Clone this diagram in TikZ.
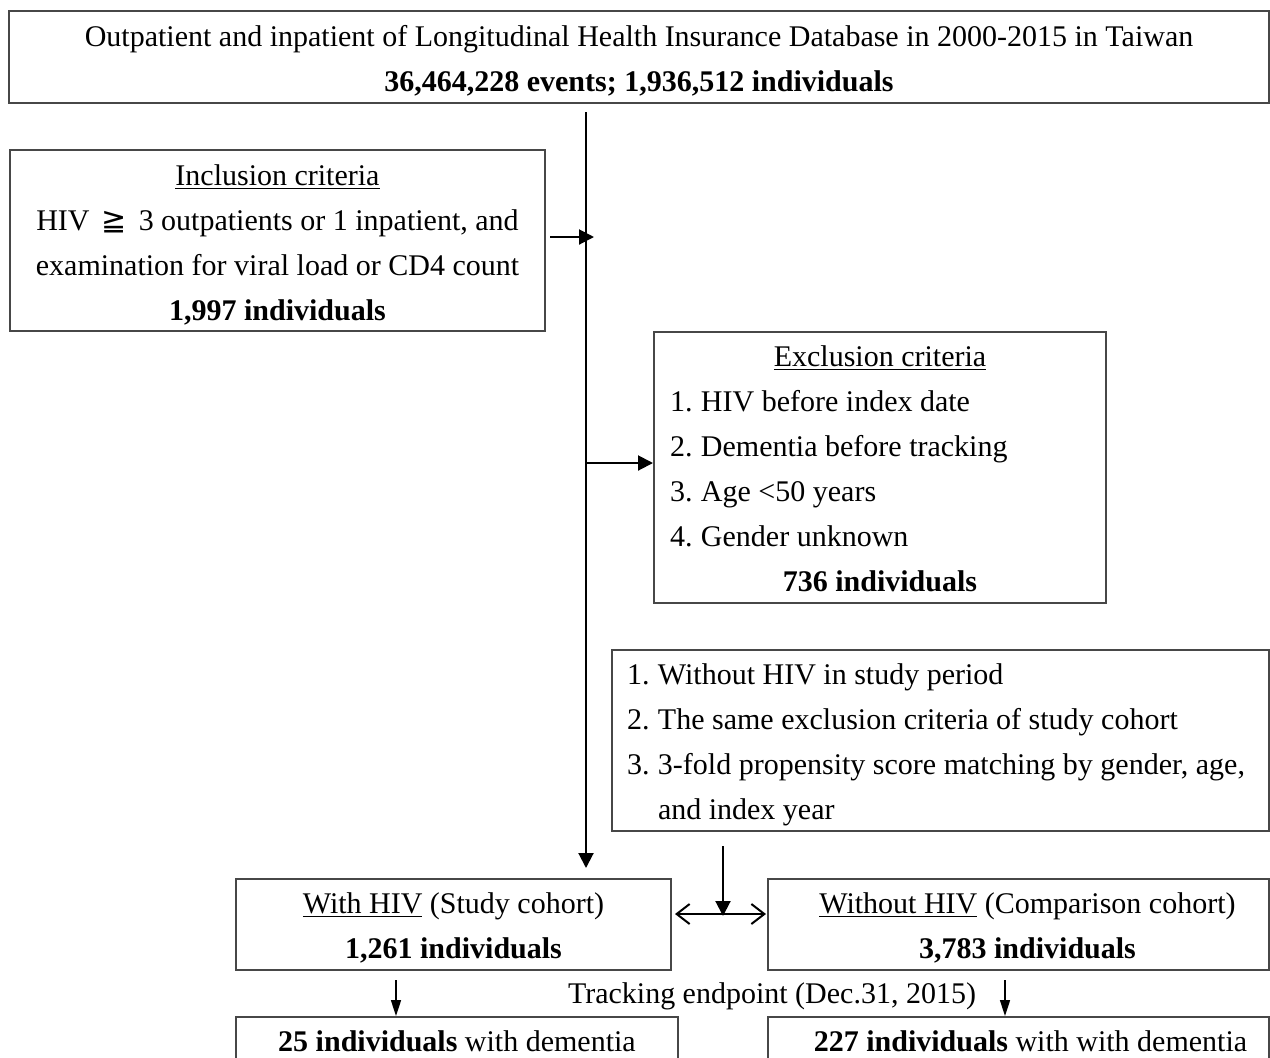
\documentclass[tikz,border=0pt]{standalone}
\usepackage{fontspec}
\setmainfont{Liberation Serif}
\newfontfamily\symfont{DejaVu Sans}
\usetikzlibrary{arrows.meta}
\newcommand{\itmline}[3]{\makebox[#1][l]{\makebox[15.5pt][l]{#2}#3}}
\newcommand{\upstrut}[1]{\rule{0pt}{#1}}
\begin{document}
\begin{tikzpicture}[x=0.5pt,y=-0.5pt,
  box/.style={draw=black!72, line width=1pt, inner sep=0pt, align=center,
    font=\fontsize{15}{22.5}\selectfont},
  txt/.style={inner sep=0pt, font=\fontsize{15}{22.5}\selectfont},
  conn/.style={line width=1pt, -{Triangle[length=7.5pt,width=7.5pt]}},
  thinconn/.style={line width=0.8pt, -{Triangle[length=8pt,width=5pt]}},
  dbl/.style={line width=1pt, {Straight Barb[length=6.5pt,width=10pt]}-{Straight Barb[length=6.5pt,width=10pt]}}]
\clip (0,0) rectangle (1270,1057);
\fill[white] (0,0) rectangle (1270,1057);

% boxes
\node[box, minimum width=630pt, minimum height=46pt] (top) at (639,57)
  {\upstrut{14.5pt}Outpatient and inpatient of Longitudinal Health Insurance Database in 2000-2015 in Taiwan\\
   \textbf{36,464,228 events; 1,936,512 individuals}};

\node[box, minimum width=267.5pt, minimum height=90.5pt] (incl) at (277.5,240.5)
  {\upstrut{14.5pt}\underline{Inclusion criteria}\\
   HIV\hspace{6pt}{\symfont ≧}\hspace{6pt}3 outpatients or 1 inpatient, and\\
   examination for viral load or CD4 count\\
   \textbf{1,997 individuals}};

\node[box, minimum width=226pt, minimum height=135.5pt] (excl) at (880,467.5)
  {\upstrut{11.5pt}\underline{Exclusion criteria}\\
   \itmline{210pt}{1.}{HIV before index date}\\
   \itmline{210pt}{2.}{Dementia before tracking}\\
   \itmline{210pt}{3.}{Age <50 years}\\
   \itmline{210pt}{4.}{Gender unknown}\\
   \textbf{736 individuals}};

\node[box, minimum width=328.5pt, minimum height=90.5pt] (match) at (940.5,740.5)
  {\upstrut{15pt}\itmline{313.5pt}{1.}{Without HIV in study period}\\
   \itmline{313.5pt}{2.}{The same exclusion criteria of study cohort}\\
   \itmline{313.5pt}{3.}{3-fold propensity score matching by gender, age,}\\
   \itmline{313.5pt}{}{and index year}};

\node[box, minimum width=217.5pt, minimum height=45.5pt] (with) at (453.5,924.5)
  {\upstrut{13.8pt}\underline{With HIV} (Study cohort)\\
   \textbf{1,261 individuals}};

\node[box, minimum width=250.5pt, minimum height=45.5pt] (without) at (1018.5,924.5)
  {\upstrut{13.8pt}\hspace{9pt}\underline{Without HIV} (Comparison cohort)\\
   \hspace{9pt}\textbf{3,783 individuals}};

\node[box, minimum width=221pt, minimum height=24pt] (resl) at (457,1041)
  {\textbf{25 individuals} with dementia};

\node[box, minimum width=250.5pt, minimum height=24pt] (resr) at (1018.5,1041)
  {\hspace{12pt}\textbf{227 individuals} with with dementia};

\node[txt] (track) at (772,996) {Tracking endpoint (Dec.31, 2015)};

% connector coordinates
\coordinate (m1) at (586,112);
\coordinate (m2) at (586,868);
\coordinate (i1) at (550,237);
\coordinate (i2) at (594,237);
\coordinate (e1) at (586,463);
\coordinate (p1) at (723,846);
\coordinate (p2) at (723,916);
\coordinate (d1) at (675,914);
\coordinate (d2) at (766,914);
\coordinate (b1) at (396,980);
\coordinate (b2) at (1005,980);

% connectors
\draw[conn] (m1) -- (m2);
\draw[conn] (i1) -- (i2);
\draw[conn] (e1) -- (e1 -| excl.west);
\draw[dbl] (d1) -- (d2);
\draw[conn] (p1) -- (p2);
\draw[thinconn] (b1) -- (b1 |- resl.north);
\draw[thinconn] (b2) -- (b2 |- resr.north);
\end{tikzpicture}
\end{document}
